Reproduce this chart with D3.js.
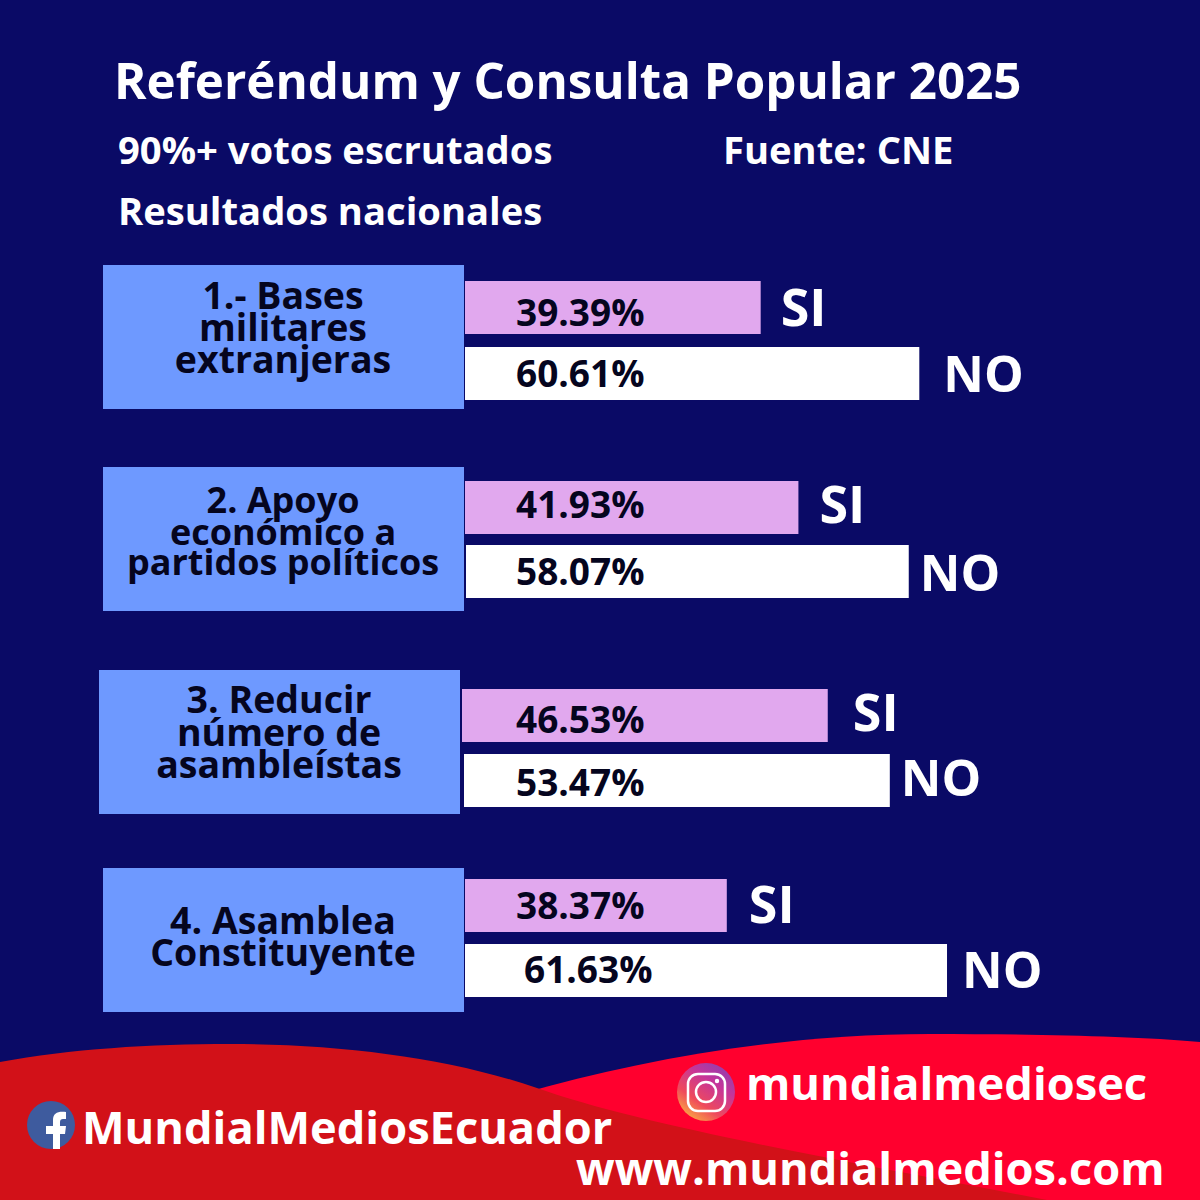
<!DOCTYPE html>
<html>
<head>
<meta charset="utf-8">
<script src="https://cdn.jsdelivr.net/npm/d3@7"></script>
<style>
html, body { margin: 0; padding: 0; background: #0a0a66; }
svg { display: block; }
text { font-family: "Open Sans", sans-serif; font-weight: 700; }
</style>
</head>
<body>
<svg id="chart" width="1200" height="1200"></svg>
<script>
var questions = [
    ["1.- Bases", "militares", "extranjeras"],
    ["2. Apoyo", "económico a", "partidos políticos"],
    ["3. Reducir", "número de", "asambleístas"],
    ["4. Asamblea", "Constituyente"]
];
// printed percentages
var siLabels = ["39.39%", "41.93%", "46.53%", "38.37%"];
var noLabels = ["60.61%", "58.07%", "53.47%", "61.63%"];
// bar lengths, the original bars don't follow their printed numbers exactly
var siDrawn = [38.4, 43.3, 47.5, 34.0];
var noDrawn = [59.0, 57.5, 55.3, 62.6];

// hand placed layout of the original, per row
var rowNudge = [0, 1, 3, 0];
var rowLeft = [0, 0, -4, 0];
var siLeft = [362, 362, 363, 362];
var noLeft = [362, 363, 365, 362];
var siTop = [16, 14, 19, 11];
var noTop = [82, 78, 84, 76];
var siGap = [20, 21, 25, 22];
var noGap = [24, 11, 11, 15];
var lineBase = [[44, 76, 108], [46, 78, 108], [43, 76, 108], [66, 98]];
var lineSize = [37.5, 36, 37.5, 37.5];
var siPctBase = [61, 51, 63, 51];
var noPctBase = [122, 118, 126, 115];
var siWordBase = [61, 56, 61, 55];
var noWordBase = [127, 124, 126, 120];
var noPctShift = [0, 0, 0, 8];

var svg = d3.select("#chart");

var x = d3.scaleLinear().domain([0, 100]).range([0, 770]);
var y = d3.scalePoint().domain(d3.range(questions.length)).range([265, 868]);

// background and footer
svg.append("rect").attr("width", 1200).attr("height", 1200).attr("fill", "#0a0a66");

svg.append("path")
    .attr("d", "M520,1094 C640,1060 780,1034 930,1034 C1030,1034 1130,1036 1200,1042 L1200,1200 L520,1200 Z")
    .attr("fill", "#ff002e");
svg.append("path")
    .attr("d", "M0,1062 C70,1049 150,1044 230,1044 C340,1044 450,1058 537,1088 C640,1125 840,1160 1047,1200 L0,1200 Z")
    .attr("fill", "#d21118");

// title
function title(str, tx, ty, size) {
    svg.append("text").attr("x", tx).attr("y", ty).attr("font-size", size).attr("fill", "#fff").text(str);
}
title("Referéndum y Consulta Popular 2025", 114, 99, 49.3);
title("90%+ votos escrutados", 118, 164, 38.2);
title("Fuente: CNE", 723, 164, 38.2);
title("Resultados nacionales", 118, 225, 38.2);

// rows
var rows = svg.selectAll("g.row").data(questions).enter().append("g")
    .attr("class", "row")
    .attr("transform", function (d, i) {
        return "translate(" + (103 + rowLeft[i]) + "," + (y(i) + rowNudge[i]) + ")";
    });

rows.append("rect")
    .attr("width", 361).attr("height", 144)
    .attr("fill", "#6e99ff");

rows.each(function (d, i) {
    var g = d3.select(this);
    d.forEach(function (line, k) {
        g.append("text")
            .attr("x", 180).attr("y", lineBase[i][k])
            .attr("text-anchor", "middle")
            .attr("font-size", lineSize[i])
            .attr("fill", "#05051e")
            .text(line);
    });

    g.append("rect")
        .attr("x", siLeft[i]).attr("y", siTop[i])
        .attr("width", x(siDrawn[i])).attr("height", 53)
        .attr("fill", "#e1a8ee");
    g.append("rect")
        .attr("x", noLeft[i]).attr("y", noTop[i])
        .attr("width", x(noDrawn[i])).attr("height", 53)
        .attr("fill", "#fff");

    g.append("text")
        .attr("x", 413 - rowLeft[i]).attr("y", siPctBase[i])
        .attr("font-size", 37).attr("fill", "#05051e")
        .text(siLabels[i]);
    g.append("text")
        .attr("x", 413 - rowLeft[i] + noPctShift[i]).attr("y", noPctBase[i])
        .attr("font-size", 37).attr("fill", "#05051e")
        .text(noLabels[i]);

    g.append("text")
        .attr("x", siLeft[i] + x(siDrawn[i]) + siGap[i]).attr("y", siWordBase[i])
        .attr("font-size", 52).attr("fill", "#fff")
        .text("SI");
    g.append("text")
        .attr("x", noLeft[i] + x(noDrawn[i]) + noGap[i]).attr("y", noWordBase[i])
        .attr("font-size", 50).attr("fill", "#fff")
        .text("NO");
});

// footer labels
title("mundialmediosec", 746, 1100, 45.2);
title("MundialMediosEcuador", 82, 1144, 45.2);
title("www.mundialmedios.com", 576, 1185, 45.2);

// facebook icon
var defs = svg.append("defs");
var igGrad = defs.append("linearGradient").attr("id", "ig")
    .attr("x1", "0.1").attr("y1", "1").attr("x2", "0.8").attr("y2", "0");
igGrad.append("stop").attr("offset", "0").attr("stop-color", "#fdc23c");
igGrad.append("stop").attr("offset", "0.35").attr("stop-color", "#ef4a5c");
igGrad.append("stop").attr("offset", "0.7").attr("stop-color", "#c5359a");
igGrad.append("stop").attr("offset", "1").attr("stop-color", "#8e3fb0");

svg.append("circle").attr("cx", 51).attr("cy", 1125).attr("r", 24).attr("fill", "#3e5b9e");
svg.append("path")
    .attr("d", "M53,1149 L53,1134 L46,1134 L46,1126 L53,1126 L53,1120 C53,1113 58,1111 66,1112 L66,1119 L63,1119 C61,1119 60,1120 60,1122 L60,1126 L66,1126 L65,1134 L60,1134 L60,1149 Z")
    .attr("fill", "#fff");

// instagram icon
svg.append("circle").attr("cx", 706).attr("cy", 1092).attr("r", 29).attr("fill", "url(#ig)");
svg.append("rect").attr("x", 688).attr("y", 1074).attr("width", 37).attr("height", 37).attr("rx", 10)
    .attr("fill", "none").attr("stroke", "#fff").attr("stroke-width", 2.5);
svg.append("circle").attr("cx", 706).attr("cy", 1092).attr("r", 10)
    .attr("fill", "none").attr("stroke", "#fff").attr("stroke-width", 2.5);
svg.append("circle").attr("cx", 717).attr("cy", 1081).attr("r", 2.2).attr("fill", "#fff");
</script>
</body>
</html>
